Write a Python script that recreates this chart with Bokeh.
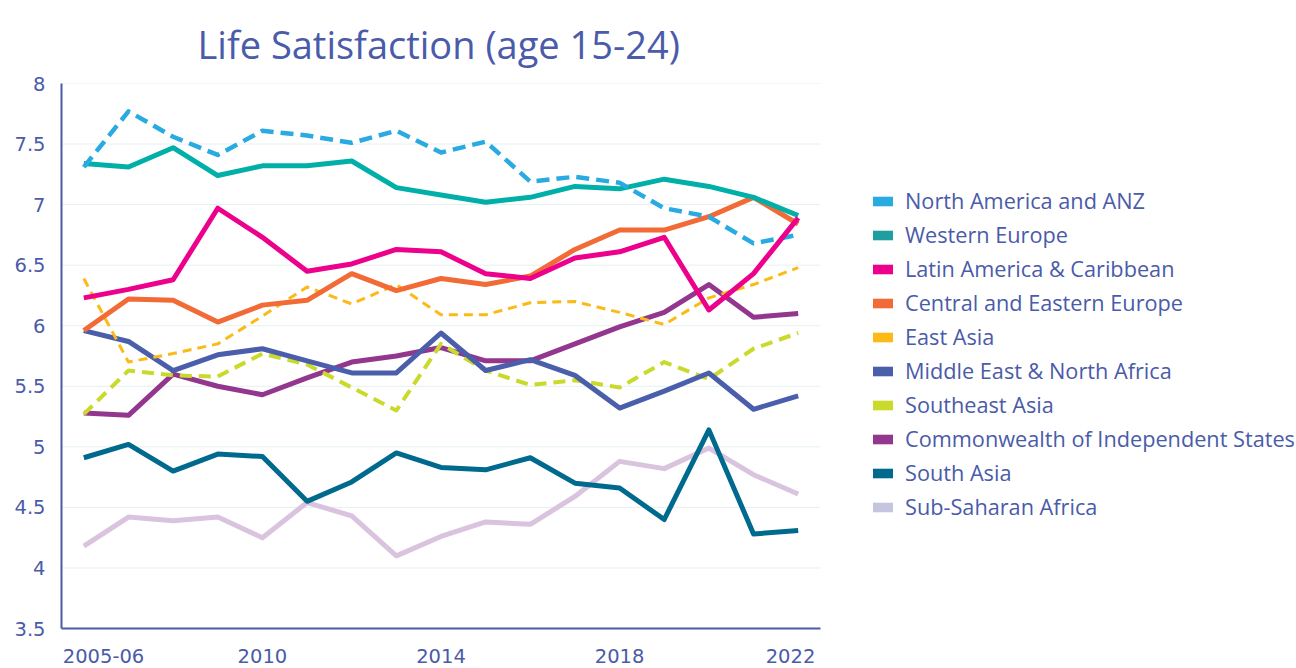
from bokeh.plotting import figure
from bokeh.models import Range1d, FixedTicker, Legend, LegendItem, ColumnDataSource
from bokeh.embed import file_html
from bokeh.resources import INLINE

years = ["2005-06", "2007", "2008", "2009", "2010", "2011", "2012", "2013", "2014",
         "2015", "2016", "2017", "2018", "2019", "2020", "2021", "2022"]

north_america = [7.31, 7.77, 7.56, 7.41, 7.61, 7.57, 7.51, 7.61, 7.43, 7.52, 7.19, 7.23, 7.18, 6.97, 6.90, 6.68, 6.75]
western_europe = [7.34, 7.31, 7.47, 7.24, 7.32, 7.32, 7.36, 7.14, 7.08, 7.02, 7.06, 7.15, 7.13, 7.21, 7.15, 7.06, 6.91]
latin_america = [6.23, 6.30, 6.38, 6.97, 6.73, 6.45, 6.51, 6.63, 6.61, 6.43, 6.39, 6.56, 6.61, 6.73, 6.13, 6.43, 6.89]
central_eastern_europe = [5.96, 6.22, 6.21, 6.03, 6.17, 6.21, 6.43, 6.29, 6.39, 6.34, 6.41, 6.63, 6.79, 6.79, 6.90, 7.06, 6.84]
east_asia = [6.39, 5.70, 5.77, 5.85, 6.08, 6.32, 6.18, 6.34, 6.09, 6.09, 6.19, 6.20, 6.11, 6.01, 6.23, 6.34, 6.48]
mena = [5.96, 5.87, 5.63, 5.76, 5.81, 5.71, 5.61, 5.61, 5.94, 5.63, 5.72, 5.59, 5.32, 5.46, 5.61, 5.31, 5.42]
southeast_asia = [5.27, 5.63, 5.59, 5.58, 5.77, 5.68, 5.49, 5.30, 5.85, 5.63, 5.51, 5.55, 5.49, 5.70, 5.56, 5.81, 5.94]
cis = [5.28, 5.26, 5.60, 5.50, 5.43, 5.57, 5.70, 5.75, 5.82, 5.71, 5.71, 5.85, 5.99, 6.11, 6.34, 6.07, 6.10]
south_asia = [4.91, 5.02, 4.80, 4.94, 4.92, 4.55, 4.71, 4.95, 4.83, 4.81, 4.91, 4.70, 4.66, 4.40, 5.14, 4.28, 4.31]
sub_saharan = [4.18, 4.42, 4.39, 4.42, 4.25, 4.54, 4.43, 4.10, 4.26, 4.38, 4.36, 4.59, 4.88, 4.82, 4.99, 4.77, 4.61]

y_ticks = [3.5, 4, 4.5, 5, 5.5, 6, 6.5, 7, 7.5, 8]
y_tick_labels = ["3.5", "4", "4.5", "5", "5.5", "6", "6.5", "7", "7.5", "8"]
x_labelled = [0, 4, 8, 12, 16]

names = ["North America and ANZ", "Western Europe", "Latin America & Caribbean",
         "Central and Eastern Europe", "East Asia", "Middle East & North Africa",
         "Southeast Asia", "Commonwealth of Independent States", "South Asia",
         "Sub-Saharan Africa"]
series = [north_america, western_europe, latin_america, central_eastern_europe, east_asia,
          mena, southeast_asia, cis, south_asia, sub_saharan]
line_colors = ["#29ABE2", "#00B0A8", "#EC008C", "#F26A35", "#FBBA16",
               "#4A5EAB", "#C9DA2A", "#92368E", "#006A8E", "#D9C3DE"]
legend_colors = ["#29ABE2", "#1E9E9E", "#EC008C", "#F26A35", "#FBBA16",
                 "#4A5EAB", "#C9DA2A", "#92368E", "#006A8E", "#C5C5E0"]
dashes = ["13 7", "solid", "solid", "solid", "9 6", "solid", "12 7", "solid", "solid", "solid"]
widths = [4.5, 5, 5, 5, 3, 5, 4, 5, 5, 5]
draw_order = [9, 8, 7, 6, 5, 4, 3, 1, 0, 2]

TEXT = "#4A5BA9"
FONT = "Open Sans"
AXIS_FONT = "DejaVu Sans"

W, H = 1296, 668
LEFT, RIGHT_PLOT_EDGE = 61, 820
n = len(years)
x_start, x_end_data = -0.5, n - 0.5
px_per_unit = (RIGHT_PLOT_EDGE - LEFT) / (x_end_data - x_start)
x_end = x_start + (W - LEFT) / px_per_unit

p = figure(width=W, height=H, output_backend="svg", toolbar_location=None,
           x_range=Range1d(x_start, x_end), y_range=Range1d(y_ticks[0], y_ticks[-1]),
           min_border_left=LEFT, min_border_right=0, min_border_top=83, min_border_bottom=40)
p.outline_line_color = None
p.background_fill_color = "white"

p.title.text = "Life Satisfaction (age 15-24)"
p.title.align = "left"
p.title.offset = 136
p.title.text_font = FONT
p.title.text_font_size = "38px"
p.title.text_font_style = "normal"
p.title.text_color = TEXT
p.title.standoff = 27

# horizontal grid lines limited to the plotting area
p.xgrid.grid_line_color = None
p.ygrid.grid_line_color = None
grid_src = ColumnDataSource(dict(x0=[x_start] * len(y_ticks), x1=[x_end_data] * len(y_ticks),
                                 y=y_ticks))
p.segment(x0="x0", x1="x1", y0="y", y1="y", source=grid_src, line_color="#E6F0F0", line_width=1)

xs = list(range(n))
for i in draw_order:
    src = ColumnDataSource(dict(x=xs, y=series[i]))
    p.line("x", "y", source=src, line_color=line_colors[i], line_width=widths[i],
           line_dash=dashes[i], line_join="round")

nan = float("nan")
items = []
for i, nm in enumerate(names):
    r = p.quad(left=[nan], right=[nan], top=[nan], bottom=[nan],
               fill_color=legend_colors[i], line_color=None)
    items.append(LegendItem(label=nm, renderers=[r]))

legend = Legend(items=items, location=(809, 107), glyph_width=25, glyph_height=12,
                label_text_font=FONT, label_text_font_size="21.7px", label_text_color=TEXT,
                label_standoff=10, spacing=5, padding=0, margin=0,
                border_line_color=None, background_fill_alpha=0)
p.add_layout(legend, "center")

# edge labels are kept inside the plot width (justified), as in the original chart
first_w, last_w = 82, 50  # approx label widths in px
first_pos = x_start + (first_w / 2 + 1) / px_per_unit
last_pos = x_end_data - (last_w / 2 + 5) / px_per_unit
tick_pos = [first_pos] + x_labelled[1:-1] + [last_pos]
tick_lab = [years[x_labelled[0]]] + [years[i] for i in x_labelled[1:-1]] + [years[x_labelled[-1]]]
p.xaxis.ticker = FixedTicker(ticks=tick_pos)
p.xaxis.major_label_overrides = dict(zip(tick_pos, tick_lab))
p.xaxis.bounds = (x_start, x_end_data)
p.yaxis.ticker = FixedTicker(ticks=y_ticks)
p.yaxis.major_label_overrides = dict(zip(y_ticks, y_tick_labels))
for ax in (p.xaxis, p.yaxis):
    ax.axis_line_color = "#4A5BA9"
    ax.axis_line_width = 2
    ax.major_tick_line_color = None
    ax.minor_tick_line_color = None
    ax.major_tick_out = 0
    ax.major_tick_in = 0
    ax.major_label_text_font = AXIS_FONT
    ax.major_label_text_font_size = "19.5px"
    ax.major_label_text_color = TEXT
p.yaxis.major_label_standoff = 16
p.xaxis.major_label_standoff = 20

open("out.html", "w").write(file_html(p, INLINE))
